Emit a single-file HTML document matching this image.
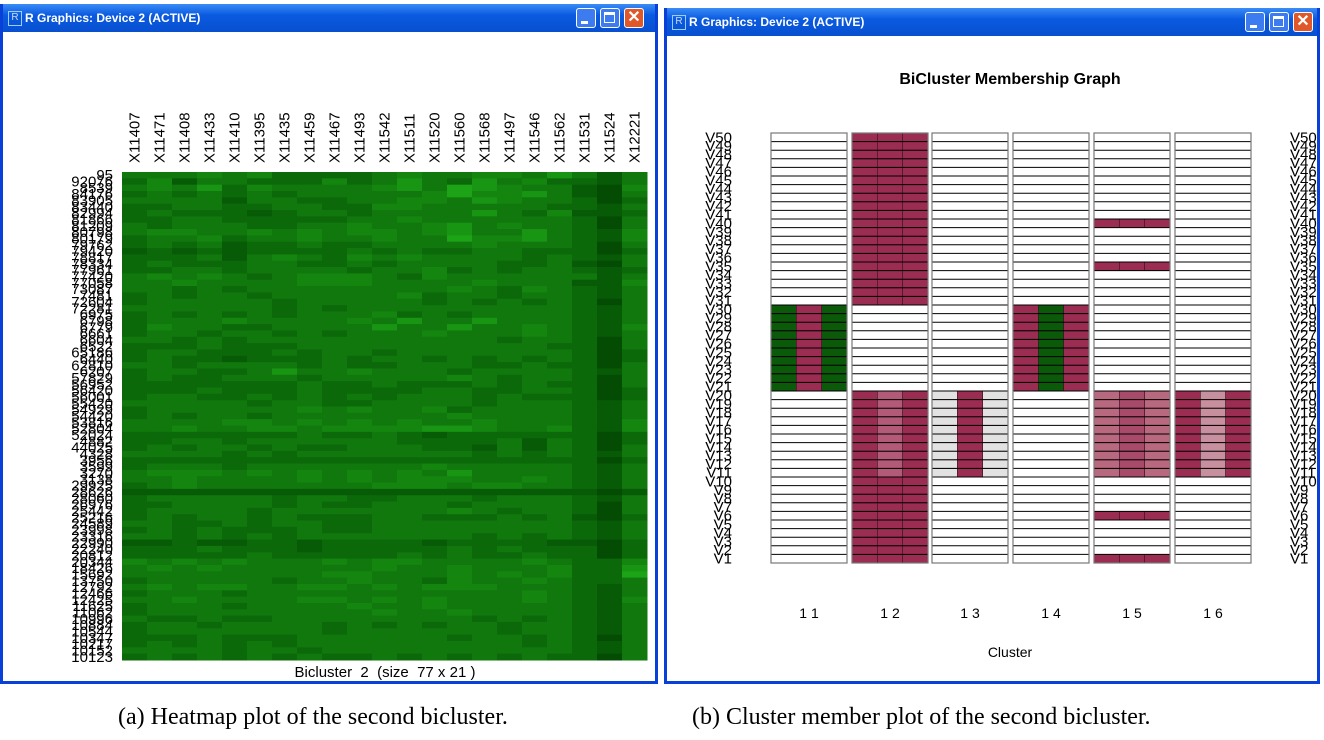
<!DOCTYPE html>
<html><head><meta charset="utf-8">
<style>
body{margin:0;width:1324px;height:740px;background:#fff;overflow:hidden;font-family:"Liberation Sans",sans-serif;}
.win{position:absolute;border:3px solid #0840d8;border-top:none;background:#fff;box-sizing:border-box;}
.tb{position:absolute;left:0;right:0;top:0;height:28px;background:linear-gradient(#3a8cf6,#0a5ae0 40%,#0850d0);color:#fff;font-weight:bold;font-size:12px;line-height:28px;padding-left:22px;}
.tb .ico{position:absolute;left:5px;top:7px;width:12px;height:13px;border:1px solid #9cf;color:#cde;font-size:10px;line-height:12px;text-align:center;font-weight:normal}
.btn{position:absolute;top:4px;width:20px;height:20px;border:1px solid #fff;border-radius:3px;box-sizing:border-box;background:#3c7cf0}
.cap{position:absolute;font-family:"Liberation Serif",serif;font-size:24px;top:704px;}
svg text{font-family:"Liberation Sans",sans-serif}
</style></head><body>
<div class="win" style="left:0;top:4px;width:658px;height:680px;">
 <div class="tb"><span class="ico">R</span>R Graphics: Device 2 (ACTIVE)
  <div class="btn" style="left:573px"><div style="position:absolute;left:4px;bottom:3px;width:7px;height:3px;background:#fff"></div></div>
  <div class="btn" style="left:597px"><div style="position:absolute;left:3px;top:3px;width:11px;height:11px;border:1px solid #fff;border-top-width:3px;box-sizing:border-box"></div></div>
  <div class="btn" style="left:621px;background:#e0582a;color:#fff;font-size:16px;line-height:17px;text-align:center">✕</div>
 </div>
</div>
<div class="win" style="left:664px;top:8px;width:656px;height:676px;">
 <div class="tb"><span class="ico">R</span>R Graphics: Device 2 (ACTIVE)
  <div class="btn" style="left:578px"><div style="position:absolute;left:4px;bottom:3px;width:7px;height:3px;background:#fff"></div></div>
  <div class="btn" style="left:602px"><div style="position:absolute;left:3px;top:3px;width:11px;height:11px;border:1px solid #fff;border-top-width:3px;box-sizing:border-box"></div></div>
  <div class="btn" style="left:626px;background:#e0582a;color:#fff;font-size:16px;line-height:17px;text-align:center">✕</div>
 </div>
</div>
<svg id="s" width="1324" height="740" style="position:absolute;left:0;top:0"></svg>
<div class="cap" style="left:118px">(a) Heatmap plot of the second bicluster.</div>
<div class="cap" style="left:692px">(b) Cluster member plot of the second bicluster.</div>
<script>
const colLabels=["X11407","X11471","X11408","X11433","X11410","X11395","X11435","X11459","X11467","X11493","X11542","X11511","X11520","X11560","X11568","X11497","X11546","X11562","X11531","X11524","X12221"];
const rowLabels=["95","92076","8539","84176","83905","83440","82994","81866","81209","80798","80179","79762","79420","78817","78334","77961","77420","77058","73087","7481","72604","72281","6975","6798","6779","6661","6604","6522","65186","6440","62810","6207","57829","56952","56420","56001","55420","54929","54420","53816","52804","52024","4882","44025","4328","3956","3599","3270","3138","29925","28626","28060","26976","25442","25216","24589","23998","23316","22990","22240","20812","20344","18426","15692","13750","12792","12466","12425","11625","11062","10996","10884","10544","10347","10217","10152","10123"];
const heat=[
"444545333345445546424","352443335346436453324","454635444456476544215","343434344444575564214","444424433445546544313","334433443355444443324","343332344344446435223","334433333445444444314","434443344544564544314","455445454554564464325","344534454454475564325","343423343344445444314","232323333434334433313","333424543545444434324","343334433434444334214","334434444344534344323","454543455543544444424","445444455544445444225","443434444444454354324","343443444445344344324","344444344444343434314","444444343444444444324","343434344453434444324","344454444546446444324","354433444464464454325","344344343444544454324","443434444444444344314","333433344444444443314","344333434434444444313","343323334344343434313","443444434334443343314","344334644544434444324","343344434444454344314","333333343343334343314","333433343333443344313","344334343434443433313","444443443344443444324","344444454544534444324","343443444444454444324","444455454545445444325","445445545555665445325","333333343343233333313","334434444443333424313","343443433444332424314","444434344444443434324","333333333333333333313","344434444444544444324","455545454545464444324","445444454545554454324","345444444455545544324","222222222222222222212","344444344334443444324","334444343344434444314","344443444444454344314","343443433344333434213","443343443344444444324","343433343344444444324","443434344444443434324","223223323333233332213","333433323333343433313","333334333334343343313","545454445455444454335","454544444454454445336","444444445544454545337","344444344544354454334","454554455454555444324","344434444444444454324","445444455454544454325","344434444544544444324","344444444454454444324","433433444444443434324","344344443434344344324","344444443444444344324","333433344444434434314","343434344444444434324","444434434444444444324","343434343343434343314"];
const clusterLabels=["1 1","1 2","1 3","1 4","1 5","1 6"];
// per cluster, 3 sub-columns, 50 chars each (V1..V50)
const memb=[
 ["....................gggggggggg....................","....................rrrrrrrrrr....................","....................gggggggggg...................."],
 ["rrrrrrrrrrrrrrrrrrrr..........rrrrrrrrrrrrrrrrrrrr","rrrrrrrrrrpppppppppp..........rrrrrrrrrrrrrrrrrrrr","rrrrrrrrrrrrrrrrrrrr..........rrrrrrrrrrrrrrrrrrrr"],
 ["..........wwwwwwwwww..............................","..........rrrrrrrrrr..............................","..........wwwwwwwwww.............................."],
 ["....................rrrrrrrrrr....................","....................gggggggggg....................","....................rrrrrrrrrr...................."],
 ["r....r....qqqqqqqqqq..............r....r..........","r....r....mmmmmmmmmm..............r....r..........","r....r....qqqqqqqqqq..............r....r.........."],
 ["..........rrrrrrrrrr..............................","..........ssssssssss..............................","..........rrrrrrrrrr.............................."]
];
const NS="http://www.w3.org/2000/svg";
const svg=document.getElementById('s');
function mk(t,a,p){const e=document.createElementNS(NS,t);for(const k in a)e.setAttribute(k,a[k]);(p||svg).appendChild(e);return e;}
const hx0=122,hx1=647,hy0=172,hy1=660;
const cw=(hx1-hx0)/colLabels.length,rh=(hy1-hy0)/rowLabels.length;
const xH=j=>hx0+j*cw, yH=i=>hy0+i*rh;
const g1=mk('g',{});


function green(v){const t=v/9;const r=Math.round(0+t*36),g=Math.round(62+t*130),b=Math.round(0+t*28);return `rgb(${r},${g},${b})`;}
heat.forEach((row,i)=>{for(let j=0;j<colLabels.length;j++){const v=+row[j];
 const c=mk('rect',{x:xH(j),y:yH(i),width:cw+0.5,height:rh+0.5,fill:green(v)},g1);
 
 }});
colLabels.forEach((l,j)=>{const x=xH(j)+cw/2+5;const t=mk('text',{x:x,y:163,'font-size':15,transform:`rotate(-90 ${x} 163)`},svg);t.textContent=l;
 
 });
rowLabels.forEach((l,i)=>{const t=mk('text',{x:113,y:yH(i)+rh/2+5,'font-size':15,'text-anchor':'end'});t.textContent=l;
 
 });
const ht=mk('text',{x:385,y:677,'font-size':15,'text-anchor':'middle','xml:space':'preserve',style:'white-space:pre'});ht.textContent="Bicluster  2  (size  77 x 21 )";


const my0=133,my1=563,nV=50,vh=(my1-my0)/nV;
const cx0=[771,852,932,1013,1094,1175],cW=76;
const yV=v=>my1-v*vh;
const cols={'r':'#9c2d52','p':'#b25a78','q':'#b8687f','m':'#a84a6a','s':'#c8909e','g':'#0a5a0a','w':'#e2e2e2','.':'#fff'};
const t0=mk('text',{x:1010,y:84,'font-size':16,'font-weight':'bold','text-anchor':'middle'});t0.textContent="BiCluster Membership Graph";


memb.forEach((cl,k)=>{const g=mk('g',{});
 
 
 cl.forEach((s,j)=>{for(let v=1;v<=nV;v++){const ch=s[v-1];
  const r=mk('rect',{x:cx0[k]+j*cW/3,y:yV(v),width:cW/3,height:vh,fill:cols[ch],stroke:ch=='.'?'none':'#3a1020','stroke-width':0.6},g);
  
  }});
 for(let v=0;v<=nV;v++){mk('line',{x1:cx0[k],x2:cx0[k]+cW,y1:yV(v),y2:yV(v),stroke:'#000','stroke-width':1},g);}
 mk('rect',{x:cx0[k],y:my0,width:cW,height:my1-my0,fill:'none',stroke:'#777','stroke-width':1.2},g);
 const t=mk('text',{x:cx0[k]+cW/2,y:618,'font-size':14,'text-anchor':'middle'});t.textContent=clusterLabels[k];
 
 
});
for(let v=1;v<=nV;v++){
 const a=mk('text',{x:732,y:yV(v)+vh/2+5,'font-size':15,'text-anchor':'end'});a.textContent='V'+v;
 
 
 const b=mk('text',{x:1290,y:yV(v)+vh/2+5,'font-size':15});b.textContent='V'+v;
 
 
}
const xt=mk('text',{x:1010,y:657,'font-size':14,'text-anchor':'middle'});xt.textContent="Cluster";


mk('rect',{x:1317,y:0,width:7,height:740,fill:'#fff'});
mk('rect',{x:1317,y:8,width:3,height:676,fill:'#0840d8'});
</script>
</body></html>
